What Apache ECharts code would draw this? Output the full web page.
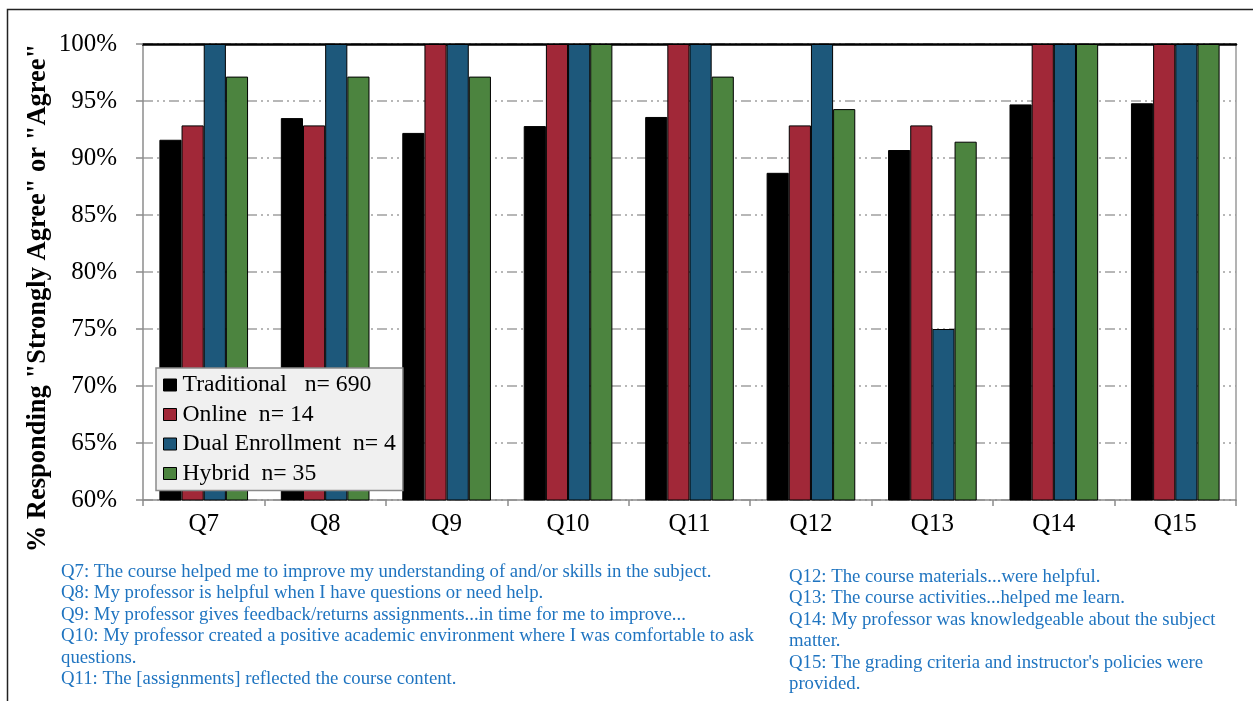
<!DOCTYPE html>
<html>
<head>
<meta charset="utf-8">
<script src="https://cdn.jsdelivr.net/npm/echarts@6/dist/echarts.min.js"></script>
<style>
  html, body { margin: 0; padding: 0; background: #fff; }
  #chart { width: 1253px; height: 701px; }
</style>
</head>
<body>
<div id="chart"></div>
<script>
// Survey items on the x axis
const categories = ['Q7', 'Q8', 'Q9', 'Q10', 'Q11', 'Q12', 'Q13', 'Q14', 'Q15'];

// Percent responding "Strongly Agree" or "Agree", per delivery mode
const traditional = [91.6, 93.5, 92.2, 92.8, 93.6, 88.7, 90.7, 94.7, 94.8];
const online      = [92.86, 92.86, 100, 100, 100, 92.86, 92.86, 100, 100];
const dual        = [100, 100, 100, 100, 100, 100, 75, 100, 100];
const hybrid      = [97.14, 97.14, 97.14, 100, 97.14, 94.29, 91.43, 100, 100];

const seriesNames = [
  'Traditional   n= 690',
  'Online  n= 14',
  'Dual Enrollment  n= 4',
  'Hybrid  n= 35'
];
const seriesColors = ['#000000', '#a12838', '#1d587b', '#4c843f'];

const yTitle = '% Responding "Strongly Agree" or "Agree"';

// Question wording shown beneath the plot
const notesLeft = [
  'Q7: The course helped me to improve my understanding of and/or skills in the subject.',
  'Q8: My professor is helpful when I have questions or need help.',
  'Q9: My professor gives feedback/returns assignments...in time for me to improve...',
  'Q10: My professor created a positive academic environment where I was comfortable to ask',
  'questions.',
  'Q11: The [assignments] reflected the course content.'
];
const notesRight = [
  'Q12: The course materials...were helpful.',
  'Q13: The course activities...helped me learn.',
  'Q14: My professor was knowledgeable about the subject',
  'matter.',
  'Q15: The grading criteria and instructor\'s policies were',
  'provided.'
];

const FONT = '"Liberation Serif", "Times New Roman", serif';
const chart = echarts.init(document.getElementById('chart'), null, { renderer: 'canvas' });

const values = [traditional, online, dual, hybrid];
const series = values.map((arr, i) => ({
  name: seriesNames[i],
  type: 'bar',
  data: arr,
  barGap: '0%',
  barCategoryGap: '27%',
  itemStyle: { color: seriesColors[i], borderColor: '#000', borderWidth: 1 }
}));

const noteStyle = { fill: '#1f74c0', font: '18.75px ' + FONT, lineHeight: 21.5 };

chart.setOption({
  backgroundColor: '#ffffff',
  animation: false,
  grid: { left: 143, right: 17, top: 44, bottom: 201, containLabel: false },
  legend: {
    orient: 'vertical',
    left: 156,
    top: 368,
    padding: [5, 7, 5, 7],
    itemGap: 5.5,
    itemWidth: 13,
    itemHeight: 12,
    icon: 'rect',
    backgroundColor: '#f0f0f0',
    borderColor: '#8a8a8a',
    borderWidth: 1.5,
    borderRadius: 0,
    textStyle: { fontFamily: FONT, fontSize: 23.7, color: '#000', padding: [0, 0, 0, 1] },
    itemStyle: { borderColor: '#000', borderWidth: 1 },
    data: seriesNames
  },
  xAxis: [
    {
      type: 'category',
      data: categories,
      position: 'bottom',
      axisLine: { show: true, lineStyle: { color: '#8c8c8c', width: 1.5 } },
      axisTick: { show: true, length: 6, lineStyle: { color: '#8c8c8c', width: 1.5 } },
      axisLabel: { fontFamily: FONT, fontSize: 25, color: '#000', margin: 12 }
    },
    {
      // heavy frame line across the top of the plot
      type: 'category',
      data: categories,
      position: 'top',
      axisLine: { show: true, lineStyle: { color: '#000', width: 2.5 } },
      axisTick: { show: false },
      axisLabel: { show: false }
    }
  ],
  yAxis: [
    {
      type: 'value',
      min: 60,
      max: 100,
      interval: 5,
      axisLine: { show: true, lineStyle: { color: '#8c8c8c', width: 1.5 } },
      axisTick: { show: true, inside: false, length: 7, lineStyle: { color: '#8c8c8c', width: 1.5 } },
      axisLabel: { fontFamily: FONT, fontSize: 25, color: '#000', margin: 26, formatter: '{value}%' },
      splitLine: { show: true, lineStyle: { color: '#a0a0a0', width: 1.5, type: [10, 4, 2, 4, 2, 4] } }
    },
    {
      // light frame line on the right of the plot
      type: 'value',
      min: 60,
      max: 100,
      interval: 5,
      position: 'right',
      axisLine: { show: true, lineStyle: { color: '#9a9a9a', width: 1.5 } },
      axisTick: { show: false },
      axisLabel: { show: false },
      splitLine: { show: false }
    }
  ],
  series: series,
  graphic: [
    {
      type: 'rect',
      silent: true,
      shape: { x: 7.5, y: 9.5, width: 1400, height: 800 },
      style: { fill: null, stroke: '#222', lineWidth: 1.5 },
      z: -1
    },
    {
      // rotated value-axis title
      type: 'text',
      x: 38,
      y: 298,
      rotation: Math.PI / 2,
      style: {
        text: yTitle,
        fill: '#000',
        font: 'bold 26.5px ' + FONT,
        textAlign: 'center',
        textVerticalAlign: 'middle'
      }
    },
    {
      type: 'text',
      left: 61,
      top: 561,
      style: Object.assign({ text: notesLeft.join('\n') }, noteStyle)
    },
    {
      type: 'text',
      left: 789,
      top: 566,
      style: Object.assign({ text: notesRight.join('\n') }, noteStyle)
    }
  ]
});
</script>
</body>
</html>
